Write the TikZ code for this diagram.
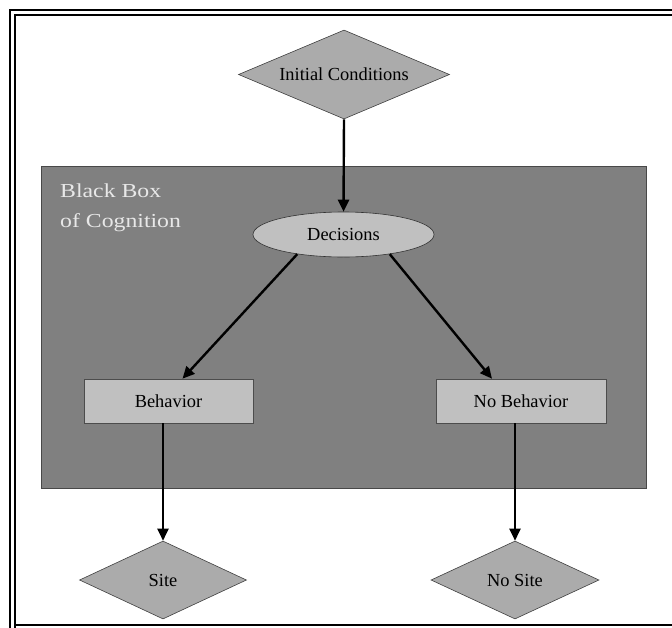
\documentclass[tikz,border=0pt]{standalone}
\usepackage{fontspec}
\setmainfont{Liberation Serif}
\usetikzlibrary{shapes.geometric,arrows.meta}
\definecolor{boxgray}{HTML}{808080}
\definecolor{boxedge}{HTML}{484848}
\definecolor{diamgray}{HTML}{ABABAB}
\definecolor{lightgray}{HTML}{C0C0C0}
\definecolor{labelwhite}{HTML}{E8E8E8}
\begin{document}
\begin{tikzpicture}[x=1pt,y=-1pt,
  lbl/.style={font=\fontsize{18.4}{20}\selectfont, text=black},
  diam/.style={diamond, draw=black!75, line width=0.6pt, fill=diamgray, inner sep=0pt, lbl},
  rbox/.style={rectangle, draw=black!70, line width=0.6pt, fill=lightgray, inner sep=0pt,
    minimum width=169pt, minimum height=44pt, lbl},
  oval/.style={ellipse, draw=black!80, line width=0.6pt, fill=lightgray, inner sep=0pt,
    minimum width=181pt, minimum height=45pt, lbl},
  bbtext/.style={font=\fontsize{19.8}{22}\selectfont, text=labelwhite, inner sep=0pt, anchor=base west},
  arr/.style={line width=2.4pt, -{Triangle[length=12pt,width=11pt]}},
  frameline/.style={line width=2.2pt, black}
]
\useasboundingbox (0,0) rectangle (672,627);
\clip (0,0) rectangle (672,627);
\fill[white] (0,0) rectangle (672,627);
% frame (cut off at right and bottom)
\draw[frameline] (10,700) -- (10,10) -- (700,10);
\draw[frameline] (15,700) -- (15,15) -- (700,15);
\draw[frameline] (15,625) -- (700,625);
% black box of cognition
\node[rectangle, draw=boxedge, line width=1pt, fill=boxgray, inner sep=0pt,
  minimum width=605pt, minimum height=322pt, anchor=north west] (bb) at (41,166) {};
\node[bbtext] (bbl1) at (60,197) {\scalebox{1.2}[1]{Black Box}};
\node[bbtext] (bbl2) at (60,227) {\scalebox{1.2}[1]{of Cognition}};
% nodes
\node[diam, aspect=2.37, minimum width=211pt, minimum height=89pt] (init) at (344,74.5) {Initial Conditions};
\node[oval] (dec) at (343.5,234.5) {Decisions};
\node[rbox] (beh) at (168.5,401) {Behavior};
\node[rbox, minimum width=170pt] (nob) at (521,401) {No Behavior};
\node[diam, aspect=2.14, minimum width=167pt, minimum height=78pt] (site) at (163,580) {Site};
\node[diam, aspect=2.14, minimum width=168pt, minimum height=78pt] (nosite) at (515,580) {No Site};
% connectors
\draw[arr] (init.south) -- (dec.north);
\draw[arr] (dec.203) -- ([xshift=14pt]beh.north);
\draw[arr] (dec.337) -- ([xshift=-29pt]nob.north);
\draw[arr] (beh.south -| site.north) -- (site.north);
\draw[arr] (nob.south -| nosite.north) -- (nosite.north);
\end{tikzpicture}
\end{document}
